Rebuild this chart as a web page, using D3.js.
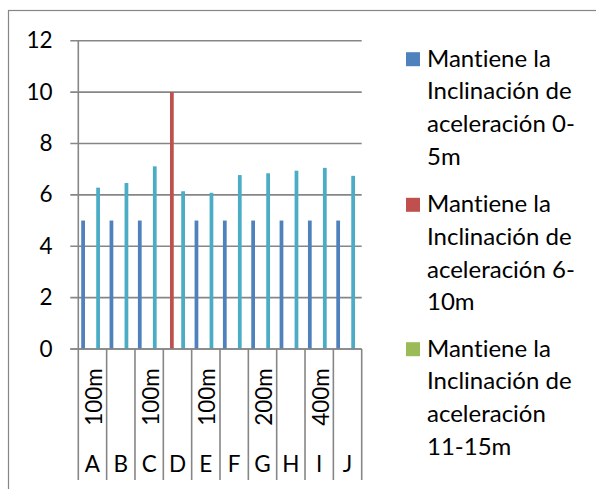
<!DOCTYPE html>
<html>
<head>
<meta charset="utf-8">
<script src="https://cdn.jsdelivr.net/npm/d3@7"></script>
<style>
  html, body { margin: 0; padding: 0; background: #fff; }
  svg { display: block; }
  text { font-family: Lato, "Open Sans", sans-serif; fill: #000; font-variant-ligatures: none; font-feature-settings: "liga" 0, "clig" 0; }
</style>
</head>
<body>
<svg id="chart" width="596" height="489"></svg>
<script>
// ---- data ----
const categories = ["A", "B", "C", "D", "E", "F", "G", "H", "I", "J"];
const groupLabels = ["100m", "", "100m", "", "100m", "", "200m", "", "400m", ""];
const seriesNames = [
  "Mantiene la Inclinación de aceleración 0-5m",
  "Mantiene la Inclinación de aceleración 6-10m",
  "Mantiene la Inclinación de aceleración 11-15m",
  "Serie 4",
  "Serie 5",
  "Serie 6"
];
const legendLines = [
  ["Mantiene la", "Inclinación de", "aceleración 0-", "5m"],
  ["Mantiene la", "Inclinación de", "aceleración 6-", "10m"],
  ["Mantiene la", "Inclinación de", "aceleración", "11-15m"]
];
const serie0a5 =   [5, 5, 5, null, 5, 5, 5, 5, 5, 5];
const serie6a10 =  [null, null, null, 10, null, null, null, null, null, null];
const serie11a15 = [null, null, null, null, null, null, null, null, null, null];
const serie4 =     [null, null, null, null, null, null, null, null, null, null];
const serie5 =     [6.28, 6.46, 7.11, 6.14, 6.08, 6.77, 6.84, 6.94, 7.05, 6.74];
const serie6 =     [null, null, null, null, null, null, null, null, null, null];
const yTicks = [0, 2, 4, 6, 8, 10, 12];
const colors = ["#4F81BD", "#C0504D", "#9BBB59", "#8064A2", "#4BACC6", "#F79646"];

const allSeries = [serie0a5, serie6a10, serie11a15, serie4, serie5, serie6];

// ---- layout ----
const svg = d3.select("#chart");
const plotL = 78.3, plotR = 361.7, plotT = 40.7, plotB = 349;
const labelBottom = 480;
const gridColor = "#868686";

// chart border
svg.append("rect")
  .attr("x", 8.5).attr("y", 10.5)
  .attr("width", 620).attr("height", 520)
  .attr("fill", "none").attr("stroke", gridColor).attr("stroke-width", 1.2);

const x0 = d3.scaleBand().domain(categories).range([plotL, plotR]).padding(0);
const x1 = d3.scaleBand().domain(d3.range(seriesNames.length))
  .range([0, x0.bandwidth()]).paddingInner(0).paddingOuter(0.78);
const y = d3.scaleLinear().domain([0, 12]).range([plotB, plotT]);

// gridlines + y ticks
const gY = svg.append("g");
gY.selectAll("line.grid").data(yTicks).join("line")
  .attr("x1", plotL - 8).attr("x2", plotR)
  .attr("y1", d => y(d)).attr("y2", d => y(d))
  .attr("stroke", gridColor).attr("stroke-width", 1.6);
gY.selectAll("text").data(yTicks).join("text")
  .attr("x", 52.5).attr("y", d => y(d) - 1)
  .attr("text-anchor", "end").attr("dominant-baseline", "central")
  .attr("font-size", 22.5)
  .text(d => d);

// y axis line
svg.append("line")
  .attr("x1", plotL).attr("x2", plotL).attr("y1", plotT).attr("y2", plotB)
  .attr("stroke", gridColor).attr("stroke-width", 1.6);

// bars
const barData = [];
allSeries.forEach((s, si) => s.forEach((v, ci) => {
  if (v != null) barData.push({ si, cat: categories[ci], v });
}));
svg.append("g").selectAll("rect").data(barData).join("rect")
  .attr("x", d => x0(d.cat) + x1(d.si))
  .attr("width", x1.bandwidth())
  .attr("y", d => y(d.v))
  .attr("height", d => y(0) - y(d.v))
  .attr("fill", d => colors[d.si]);

// x axis base line
svg.append("line")
  .attr("x1", plotL - 8).attr("x2", plotR).attr("y1", plotB).attr("y2", plotB)
  .attr("stroke", gridColor).attr("stroke-width", 1.6);

// category separators
const bounds = categories.map(c => x0(c)).concat([plotR]);
svg.append("g").selectAll("line").data(bounds).join("line")
  .attr("x1", d => d).attr("x2", d => d)
  .attr("y1", plotB).attr("y2", labelBottom)
  .attr("stroke", gridColor).attr("stroke-width", 1.6);

// group labels (rotated)
svg.append("g").selectAll("text").data(categories).join("text")
  .attr("transform", (c, i) => `translate(${x0(c) + x0.bandwidth() / 2 + 1},397) rotate(-90)`)
  .attr("text-anchor", "middle").attr("dominant-baseline", "central")
  .attr("font-size", 22.5)
  .text((c, i) => groupLabels[i]);

// category labels
svg.append("g").selectAll("text").data(categories).join("text")
  .attr("x", c => x0(c) + x0.bandwidth() / 2)
  .attr("y", 471.5)
  .attr("text-anchor", "middle")
  .attr("font-size", 22.5)
  .text(c => c);

// legend
const legendY = [66.7, 212.3, 356.7];
const leg = svg.append("g");
legendLines.forEach((lines, i) => {
  leg.append("rect")
    .attr("x", 406).attr("y", legendY[i] - 14.5)
    .attr("width", 14).attr("height", 14)
    .attr("fill", colors[i]);
  leg.append("text")
    .attr("x", 427).attr("y", legendY[i])
    .attr("font-size", 24)
    .selectAll("tspan").data(lines).join("tspan")
    .attr("x", 427).attr("dy", (d, j) => j === 0 ? 0 : 32.6)
    .text(d => d);
});
</script>
</body>
</html>
